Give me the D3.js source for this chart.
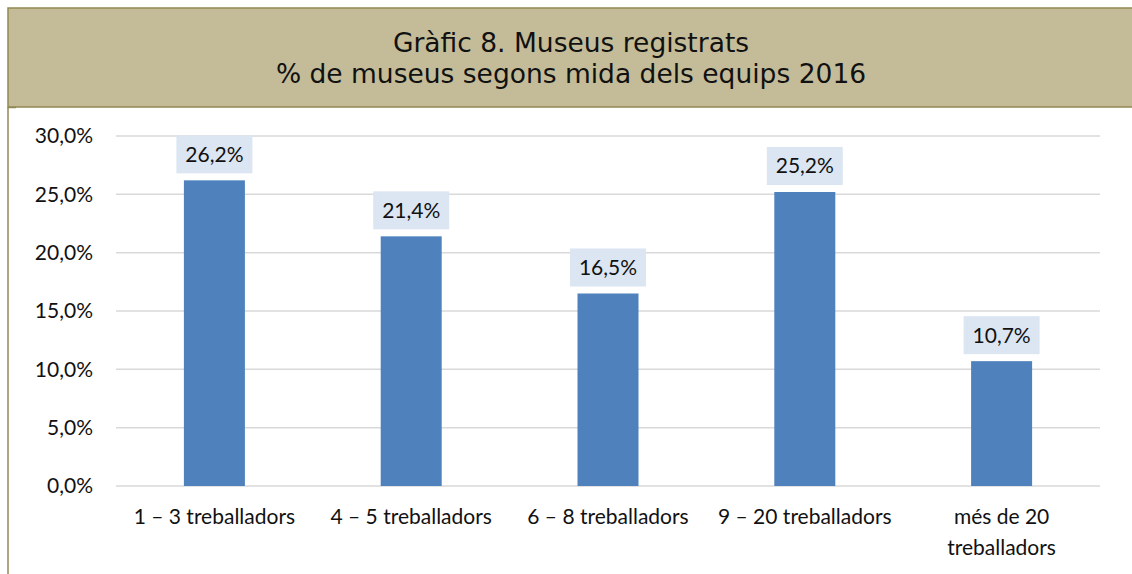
<!DOCTYPE html>
<html><head><meta charset="utf-8">
<script src="https://cdn.jsdelivr.net/npm/d3@7/dist/d3.min.js"></script>
<style>body{margin:0;background:#fff;}svg{display:block;}</style>
</head><body>
<svg id="c" width="1132" height="574"></svg>
<script>
const categories = [["1 – 3 treballadors"], ["4 – 5 treballadors"], ["6 – 8 treballadors"], ["9 – 20 treballadors"], ["més de 20", "treballadors"]];
const values = [26.2, 21.4, 16.5, 25.2, 10.7];
const valueLabels = ["26,2%", "21,4%", "16,5%", "25,2%", "10,7%"];
const yTicks = [0, 5, 10, 15, 20, 25, 30];
const yTickLabels = ["0,0%", "5,0%", "10,0%", "15,0%", "20,0%", "25,0%", "30,0%"];
const titleLines = ["Gràfic 8. Museus registrats", "% de museus segons mida dels equips 2016"];

const svg = d3.select("#c");
const border = "#938953";
// header
svg.append("rect").attr("x", 8).attr("y", 8).attr("width", 1130).attr("height", 99)
  .attr("fill", "#C4BC98").attr("stroke", border).attr("stroke-width", 1.5);
svg.append("line").attr("x1", 8).attr("x2", 8).attr("y1", 107).attr("y2", 574)
  .attr("stroke", border).attr("stroke-width", 1.5);
svg.append("line").attr("x1", 8).attr("x2", 16).attr("y1", 107.5).attr("y2", 107.5)
  .attr("stroke", border).attr("stroke-width", 1.5);

svg.selectAll("text.title").data(titleLines).join("text")
  .attr("x", 571).attr("y", (d, i) => 52 + i * 31)
  .attr("text-anchor", "middle")
  .attr("font-family", "DejaVu Sans, Verdana, sans-serif").attr("font-size", 26.5)
  .attr("fill", "#111").text(d => d);

const x = d3.scaleBand().domain(d3.range(values.length)).range([116, 1100]).paddingInner(0.69).paddingOuter(0.345);
const y = d3.scaleLinear().domain([0, 30]).range([486, 136]);

const font = "Lato, 'Open Sans', sans-serif";
const fs = 21;
// gridlines
svg.selectAll("line.grid").data(yTicks).join("line")
  .attr("x1", 116).attr("x2", 1100).attr("y1", d => y(d)).attr("y2", d => y(d))
  .attr("stroke", "#D9D9D9").attr("stroke-width", 1.5);
svg.selectAll("text.yt").data(yTicks).join("text")
  .attr("x", 93).attr("y", d => y(d)).attr("dy", "0.35em").attr("text-anchor", "end")
  .attr("font-family", font).attr("font-size", fs).attr("fill", "#111")
  .text((d, i) => yTickLabels[i]);

// bars
svg.selectAll("rect.bar").data(values).join("rect")
  .attr("x", (d, i) => x(i)).attr("width", x.bandwidth())
  .attr("y", d => y(d)).attr("height", d => y(0) - y(d))
  .attr("fill", "#4F81BD");

// labels
const lg = svg.selectAll("g.lab").data(values).join("g")
  .attr("transform", (d, i) => `translate(${x(i) + x.bandwidth() / 2},${y(d) - 26})`);
lg.append("rect").attr("x", -38).attr("y", -19).attr("width", 76).attr("height", 38).attr("fill", "#DCE6F2");
lg.append("text").attr("text-anchor", "middle").attr("dy", "0.35em")
  .attr("font-family", font).attr("font-size", fs).attr("fill", "#111")
  .text((d, i) => valueLabels[i]);

// category labels
const cg = svg.selectAll("text.cat").data(categories).join("text")
  .attr("x", (d, i) => x(i) + x.bandwidth() / 2).attr("y", 524)
  .attr("text-anchor", "middle").attr("font-family", font).attr("font-size", fs).attr("fill", "#111");
cg.selectAll("tspan").data(d => d).join("tspan")
  .attr("x", function () { return d3.select(this.parentNode).attr("x"); })
  .attr("dy", (d, i) => i === 0 ? 0 : 31).text(d => d);
</script>
</body></html>
